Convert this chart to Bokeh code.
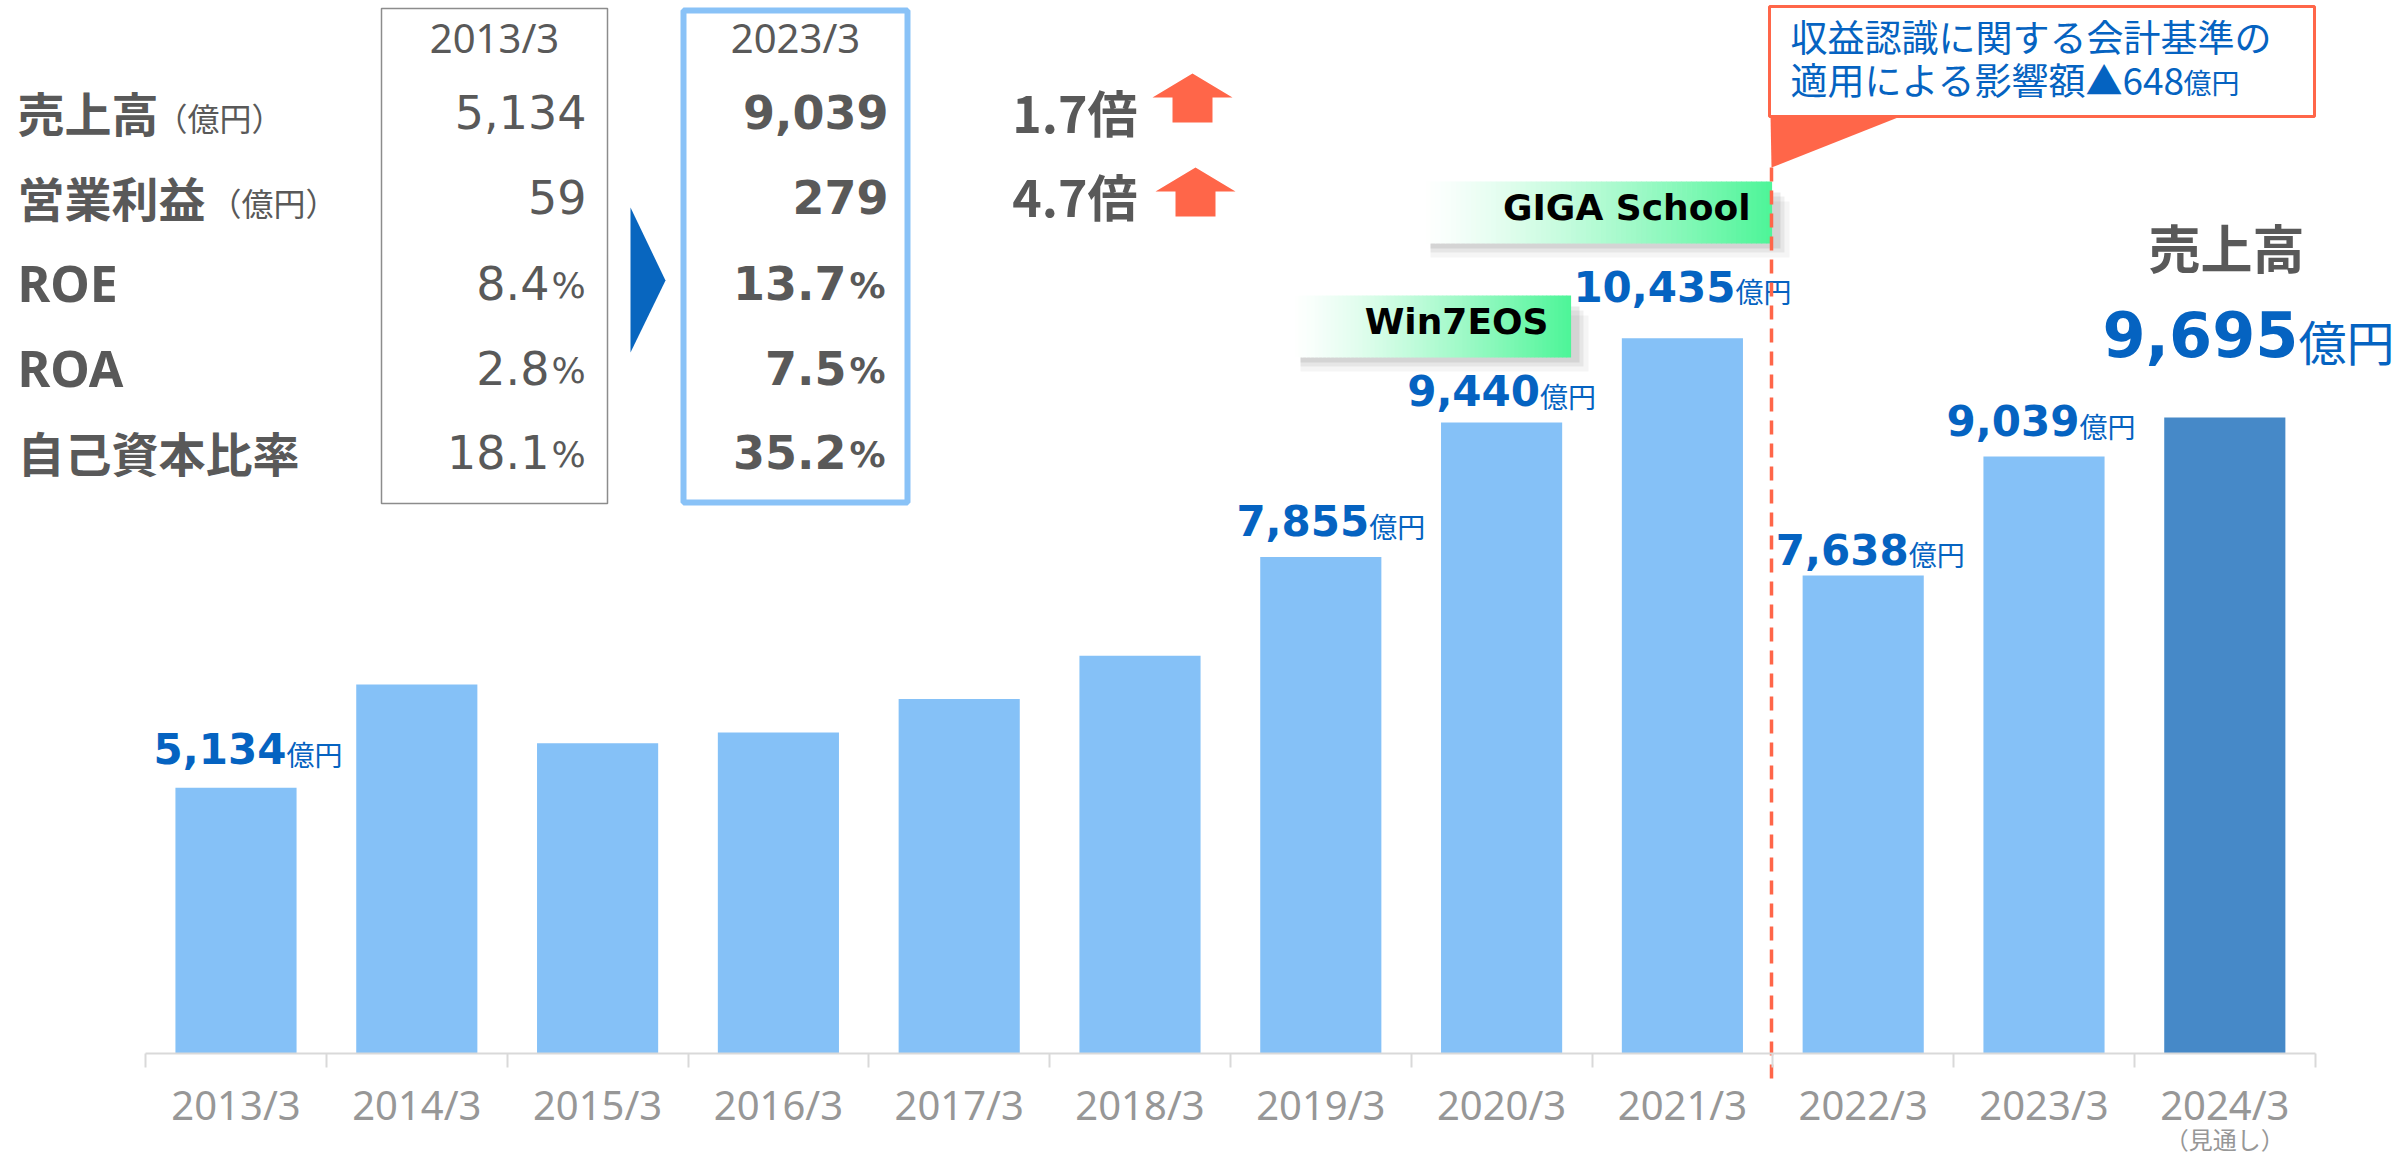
import numpy as np
from bokeh.plotting import figure
from bokeh.models import Range1d, FixedTicker, Label, ColumnDataSource
from bokeh.core.properties import value
from bokeh.embed import file_html
from bokeh.resources import INLINE

# ---------------- data ----------------
years = ["2013/3", "2014/3", "2015/3", "2016/3", "2017/3", "2018/3",
         "2019/3", "2020/3", "2021/3", "2022/3", "2023/3", "2024/3"]
sales = [5134, 6350, 5660, 5785, 6180, 6690, 7855, 9440, 10435, 7638, 9039, 9500]
is_forecast = [False] * 11 + [True]
labelled_years = ["2013/3", "2019/3", "2020/3", "2021/3", "2022/3", "2023/3"]
forecast_sales = 9695
forecast_note = "（見通し）"

metric_names = ["売上高", "営業利益", "ROE", "ROA", "自己資本比率"]
metric_units = ["（億円）", "（億円）", "", "", ""]
values_2013 = [5134, 59, 8.4, 2.8, 18.1]
values_2023 = [9039, 279, 13.7, 7.5, 35.2]
is_percent = [False, False, True, True, True]
growth = ["1.7倍", "4.7倍"]
events = ["Win7EOS", "GIGA School"]
note_lines = ["収益認識に関する会計基準の", "適用による影響額▲648"]

# ---------------- layout helpers (page pixel -> data) ----------------
W, H = 2400, 1160
CX0, KX = 235.5, 180.8          # centre of first category, px per category
BASE_PX, KY, AXIS_MIN = 1053, 0.0848, 2000


def dx(px):
    return (px - CX0) / KX


def dy(py):
    return AXIS_MIN + (BASE_PX - py) / KY


JP = "Noto Sans CJK JP"
LAT = "Noto Sans"
VB = "DejaVu Sans"
GRAY = "#595959"
BLUE = "#0563c1"
CORAL = "#ff6649"

p = figure(width=W, height=H, output_backend="svg", toolbar_location=None,
           x_range=Range1d(dx(0), dx(W)), y_range=Range1d(dy(H), dy(0)),
           y_axis_location=None, min_border=0, title=None)
p.outline_line_color = None
p.grid.grid_line_color = None
p.background_fill_color = "white"
p.border_fill_color = "white"

# ---------------- axis ----------------
ax = p.xaxis[0]
ax.fixed_location = AXIS_MIN
ax.bounds = (-0.5, len(years) - 0.5)
ax.ticker = FixedTicker(ticks=list(range(len(years))),
                        minor_ticks=[i - 0.5 for i in range(len(years) + 1)])
ax.major_label_overrides = {i: y for i, y in enumerate(years)}
ax.axis_line_color = "#d9d9d9"
ax.axis_line_width = 2
ax.major_tick_out = 0
ax.major_tick_in = 0
ax.minor_tick_out = 14
ax.minor_tick_in = 0
ax.minor_tick_line_color = "#d9d9d9"
ax.minor_tick_line_width = 2
ax.major_label_standoff = 9
ax.major_label_text_font = LAT
ax.major_label_text_font_size = "40px"
ax.major_label_text_color = "#979797"

# ---------------- bars ----------------
xs = list(range(len(years)))
bar_src = ColumnDataSource(dict(
    x=xs, top=sales,
    color=["#4689c8" if f else "#85c1f7" for f in is_forecast]))
p.vbar(x="x", top="top", bottom=AXIS_MIN, width=0.67, fill_color="color",
       line_color=None, source=bar_src)

# bar value labels (offsets are layout: px of label centre above bar top, px shift right)
label_up = [39, 36, 32, 52, 26, 36]
label_right = [12, 10, 0, 0, 7, -3]
lx, ly, ly2, lnum = [], [], [], []
for yr, up, rt in zip(labelled_years, label_up, label_right):
    i = years.index(yr)
    v = sales[i]
    s = f"{v:,}"
    nd = sum(c.isdigit() for c in s)
    nc = s.count(",")
    w_num = 42 * (0.696 * nd + 0.38 * nc)
    w_suf = 56
    lx.append(i + ((w_num - w_suf) / 2 + rt) / KX)
    ly.append(v + up / KY)
    ly2.append(v + (up - 5) / KY)
    lnum.append(s)
lab_src = ColumnDataSource(dict(x=lx, y=ly, y2=ly2, num=lnum, suf=["億円"] * len(lx)))
p.text(x="x", y="y", text="num", source=lab_src, text_font=value(VB),
       text_font_style="bold", text_font_size="42px", text_color=BLUE,
       text_align="right", text_baseline="alphabetic")
p.text(x="x", y="y2", text="suf", source=lab_src, text_font=value(JP),
       text_font_size="28px", text_color=BLUE,
       text_align="left", text_baseline="alphabetic")

# forecast note under the last tick label
p.add_layout(Label(x=len(years) - 1, y=dy(1138), text=forecast_note, text_font=JP,
                   text_font_size="24px", text_color="#979797",
                   text_align="center", text_baseline="alphabetic"))


def lab(px, py, text, size, color=GRAY, font=JP, bold=False, align="left"):
    p.add_layout(Label(x=dx(px), y=dy(py), text=text, text_font=font,
                       text_font_size=f"{size}px",
                       text_font_style="bold" if bold else "normal",
                       text_color=color, text_align=align, text_baseline="alphabetic"))


# ---------------- comparison table ----------------
row_c = [111, 196, 282, 367, 451]     # visual centres of the rows
unit_left = [155, 209]
for r, (name, unit) in enumerate(zip(metric_names, metric_units)):
    if name.isascii():
        lab(17, row_c[r], name, 50, font=LAT, bold=True)
    else:
        lab(17, row_c[r], name, 47, bold=True)
    if unit:
        lab(unit_left[r], row_c[r] + 5, unit, 32)

# boxes
p.quad(left=dx(381), right=dx(607), top=dy(8), bottom=dy(503),
       fill_color=None, line_color="#8c8c8c", line_width=1.5)
p.quad(left=dx(683), right=dx(907), top=dy(10), bottom=dy(502),
       fill_color=None, line_color="#89c2f7", line_width=6)
lab(494, 37, years[0], 40, font=LAT, align="center")
lab(795, 37, years[10], 40, font=LAT, align="center")

for r in range(len(metric_names)):
    v1, v2 = values_2013[r], values_2023[r]
    if is_percent[r]:
        lab(549, row_c[r], f"{v1:.1f}", 46, font=VB, align="right")
        lab(551, row_c[r] + 3, "%", 36, font=VB)
        lab(846, row_c[r], f"{v2:.1f}", 46, font=VB, bold=True, align="right")
        lab(849, row_c[r] + 3, "%", 36, font=VB, bold=True)
    else:
        lab(586, row_c[r], f"{v1:,}", 46, font=VB, align="right")
        lab(888, row_c[r], f"{v2:,}", 46, font=VB, bold=True, align="right")

# blue transition triangle
p.patch(x=[dx(630), dx(665), dx(630)], y=[dy(207), dy(280), dy(352)],
        fill_color="#0866bf", line_color=None)

# growth multipliers + up arrows
for g, cy, tip in zip(growth, [110, 194], [(1192, 73), (1195, 167)]):
    lab(1137, cy, g, 50, bold=True, align="right")
    tx, ty = tip
    ax_pts = [tx, tx + 40, tx + 20, tx + 20, tx - 20, tx - 20, tx - 40]
    ay_pts = [ty, ty + 24, ty + 24, ty + 49, ty + 49, ty + 24, ty + 24]
    p.patch(x=[dx(v) for v in ax_pts], y=[dy(v) for v in ay_pts],
            fill_color=CORAL, line_color=None)


# ---------------- event banners ----------------
def banner(x0, x1, y0, y1, text, text_right, text_cy):
    for o, a in [(14, 0.04), (9, 0.06), (5, 0.08)]:
        p.quad(left=dx(x0 + 10), right=dx(x1 + o + 4), top=dy(y0 + o + 6),
               bottom=dy(y1 + o), fill_color="#000000", fill_alpha=a, line_color=None)
    n = 70
    edges = np.linspace(x0, x1, n + 1)
    t = ((np.arange(n) + 0.5) / n) ** 1.25
    c0 = np.array([255, 255, 255])
    c1 = np.array([77, 245, 152])
    cols = ["#%02x%02x%02x" % tuple(int(round(c)) for c in (c0 + (c1 - c0) * ti)) for ti in t]
    p.quad(left=[dx(e) for e in edges[:-1]], right=[dx(e + 0.6) for e in edges[1:]],
           top=dy(y0), bottom=dy(y1), fill_color=cols, line_color=None)
    p.add_layout(Label(x=dx(text_right), y=dy(text_cy), text=text, text_font=VB,
                       text_font_size="36px", text_font_style="bold",
                       text_color="#000000", text_align="right",
                       text_baseline="alphabetic"))


banner(1290, 1570, 295, 357, events[0], 1548, 321)
banner(1420, 1771, 181, 243, events[1], 1750, 207)

# ---------------- accounting-change divider + callout ----------------
p.line(x=[dx(1771), dx(1771)], y=[dy(167), dy(1080)], line_color=CORAL,
       line_width=3.5, line_dash="14 9")
p.patch(x=[dx(1770), dx(1905), dx(1771)], y=[dy(114), dy(114), dy(167)],
        fill_color=CORAL, line_color=None)
p.quad(left=dx(1769), right=dx(2314), top=dy(6), bottom=dy(116),
       fill_color="white", line_color=CORAL, line_width=3)
lab(1790, 35, note_lines[0], 37, color=BLUE)
lab(1790, 78, note_lines[1], 37, color=BLUE)
lab(2183, 81, "億円", 28, color=BLUE)

# ---------------- forecast headline ----------------
lab(2226, 246, "売上高", 52, bold=True, align="center")
lab(2298, 333, f"{forecast_sales:,}", 62, color=BLUE, font=VB, bold=True, align="right")
lab(2298, 339, "億円", 48, color=BLUE)

open("out.html", "w").write(file_html(p, INLINE))
